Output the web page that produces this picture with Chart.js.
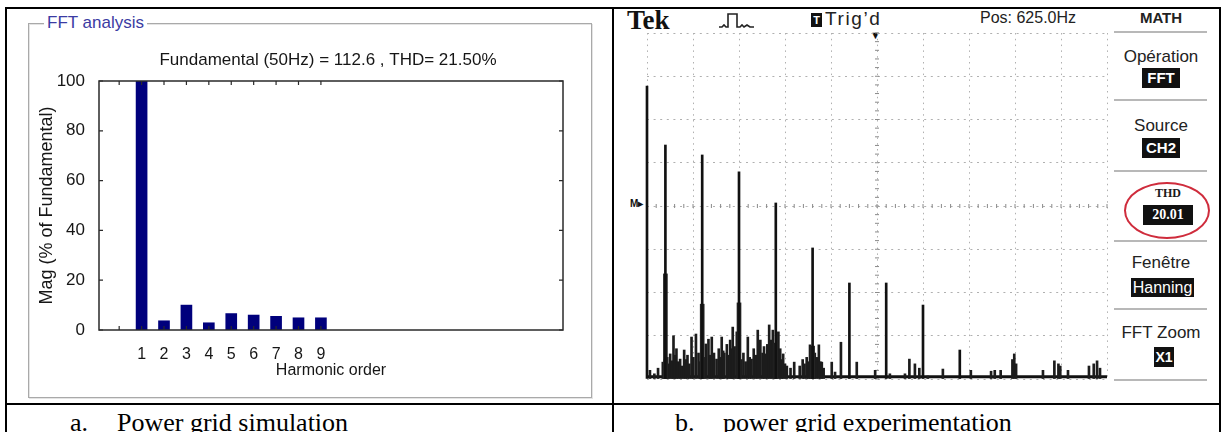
<!DOCTYPE html>
<html>
<head>
<meta charset="utf-8">
<script src="https://cdn.jsdelivr.net/npm/chart.js@4.4.0/dist/chart.umd.min.js"></script>
<style>
  html, body { margin: 0; padding: 0; background: #fff; }
  #page { position: relative; width: 1226px; height: 432px; overflow: hidden; font-family: "Liberation Sans", Arial, sans-serif; color: #1a1a1a; }
  .rule { position: absolute; background: #000; }
  .abs { position: absolute; white-space: nowrap; }
  canvas { position: absolute; }
  .frame { position: absolute; left: 28px; top: 23px; width: 562px; height: 373px; border: 1px solid #a9a9a9; box-shadow: 1px 1px 0 #e4e4e4, inset 1px 1px 0 #e4e4e4; }
  .frameLabel { left: 44px; top: 12px; padding: 0 3px; background: #fff; color: #3b3ba3; font-size: 17px; line-height: 22px; }
  .caption { font-family: "Liberation Serif", "Times New Roman", serif; font-size: 26px; line-height: 28px; top: 409px; color: #000; }
  .sep { position: absolute; left: 1114px; width: 93px; height: 2px; background: #b8b8b8; }
  .menu { position: absolute; left: 1114px; width: 94px; text-align: center; font-size: 17px; line-height: 20px; color: #222; }
  .inv { position: absolute; background: #111; color: #fff; text-align: center; font-weight: bold; }
</style>
</head>
<body>
<div id="page">
  <!-- table lines -->
  <div class="rule" style="left:5px; top:7px; width:1216px; height:2px;"></div>
  <div class="rule" style="left:5px; top:403px; width:1216px; height:2px;"></div>
  <div class="rule" style="left:5px; top:7px; width:2px; height:425px;"></div>
  <div class="rule" style="left:612px; top:7px; width:2px; height:425px;"></div>
  <div class="rule" style="left:1219px; top:7px; width:2px; height:425px;"></div>

  <!-- left panel: MATLAB FFT analysis -->
  <div class="frame"></div>
  <div class="abs frameLabel">FFT analysis</div>
  <canvas id="simChart" width="612" height="404" style="left:0; top:0;"></canvas>

  <!-- right panel: oscilloscope -->
  <div class="abs" style="left:627px; top:4px; font-family:'Liberation Serif',serif; font-weight:bold; font-size:27px; line-height:32px; color:#111;">Tek</div>
  <svg class="abs" style="left:719px; top:12px;" width="36" height="18">
    <polyline points="0,15 3,15 5,13 7,15 9,15 9,2 18,2 18,15 21,15 23,13 25,15 28,13 31,15 35,15" fill="none" stroke="#222" stroke-width="1.6"/>
  </svg>
  <div class="inv" style="left:811px; top:13px; width:11px; height:14px; font-size:11px; line-height:14px;">T</div>
  <div class="abs" style="left:825px; top:8px; font-size:19px; line-height:22px; letter-spacing:1.6px; color:#222;">Trig’d</div>
  <div class="abs" style="left:980px; top:8px; font-size:16px; line-height:20px; color:#222;">Pos: 625.0Hz</div>
  <div class="abs" style="left:870px; top:29px; font-size:11px; line-height:12px; color:#111;">▼</div>
  <div class="abs" style="left:630px; top:198px; font-size:10px; line-height:12px; font-weight:bold; color:#111;">M▸</div>

  <canvas id="scopeChart" width="500" height="392" style="left:614px; top:10px;"></canvas>

  <div class="menu" style="top:8px; font-size:15px; font-weight:bold; line-height:20px;">MATH</div>
  <div class="sep" style="top:31px;"></div>
  <div class="menu" style="top:47px;">Opération</div>
  <div class="inv" style="left:1142px; top:68px; width:38px; height:20px; font-size:15px; line-height:20px;">FFT</div>
  <div class="sep" style="top:99px;"></div>
  <div class="menu" style="top:116px;">Source</div>
  <div class="inv" style="left:1142px; top:138px; width:38px; height:20px; font-size:15px; line-height:20px;">CH2</div>
  <div class="sep" style="top:170px;"></div>
  <div class="abs" style="left:1124px; top:182px; width:82px; height:53px; border:2.5px solid #cf2c3c; border-radius:50%;"></div>
  <div class="abs" style="left:1143px; top:186px; width:50px; text-align:center; font-family:'Liberation Serif',serif; font-weight:bold; font-size:12px; line-height:14px;">THD</div>
  <div class="inv" style="left:1143px; top:205px; width:50px; height:20px; font-family:'Liberation Serif',serif; font-size:14px; line-height:20px;">20.01</div>
  <div class="sep" style="top:240px;"></div>
  <div class="menu" style="top:253px;">Fenêtre</div>
  <div class="inv" style="left:1131px; top:278px; width:63px; height:19px; font-size:16px; font-weight:normal; line-height:19px;">Hanning</div>
  <div class="sep" style="top:308px;"></div>
  <div class="menu" style="top:323px;">FFT Zoom</div>
  <div class="inv" style="left:1154px; top:347px; width:20px; height:20px; font-size:14px; line-height:20px;">X1</div>
  <div class="sep" style="top:379px;"></div>

  <!-- captions -->
  <div class="abs caption" style="left:70px;">a.</div>
  <div class="abs caption" style="left:117px;">Power grid simulation</div>
  <div class="abs caption" style="left:675px;">b.</div>
  <div class="abs caption" style="left:723px;">power grid experimentation</div>
</div>

<script>
// ---- left: simulated harmonic spectrum (% of fundamental) ----
const harmonicOrder = [1, 2, 3, 4, 5, 6, 7, 8, 9];
const magPercent = [100, 3.7, 10, 2.9, 6.6, 6.0, 5.5, 4.9, 4.9];
const yTicksLeft = [0, 20, 40, 60, 80, 100];
const xTickMarks = [0, 1, 2, 3, 4, 5, 6, 7, 8, 9];
const plotTitle = 'Fundamental (50Hz) = 112.6 , THD= 21.50%';

// ---- right: oscilloscope FFT (Hz, divisions) ----
const gridFreq = [0, 125, 250, 375, 500, 625, 750, 875, 1000, 1125, 1250];
const gridDiv = [0, 1, 2, 3, 4, 5, 6, 7, 8];
const peakFreq = [0, 50, 150, 250, 350, 450, 550, 650, 750, 850];
const peakMag = [6.77, 5.41, 5.18, 4.79, 4.07, 3.03, 2.22, 2.22, 1.71, 0.67];
const shoulderFreq = [50, 150, 250, 350, 450];
const shoulderMag = [2.43, 1.73, 1.76, 0.83, 0.76];
const noiseFreq = [8, 20, 30, 43, 48, 55, 58, 63, 68, 72, 76, 80, 85, 90, 95, 101, 105, 110, 115, 121,
    126, 133, 140, 145, 155, 160, 167, 172, 176, 182, 189, 195, 199, 203, 207, 210, 217, 221, 226, 230,
    233, 238, 244, 256, 262, 268, 274, 279, 284, 290, 296, 301, 308, 314, 318, 323, 327, 332, 337, 342,
    347, 357, 362, 366, 370, 375, 380, 390, 400, 415, 423, 428, 434, 439, 443, 448, 452, 456, 461, 467,
    471, 475, 480, 502, 511, 527, 570, 620, 660, 701, 713, 728, 740, 763, 804, 880, 935, 945, 961, 993,
    998, 1003, 1076, 1107, 1118, 1123, 1144, 1201, 1214, 1223, 1231];
const noiseMag = [0.2, 0.12, 0.25, 0.39, 0.45, 0.5, 0.35, 0.58, 0.42, 1.0, 0.55, 0.7, 0.4, 0.46, 0.3, 0.67, 0.45, 0.55, 0.35, 0.97,
    0.5, 1.04, 0.6, 0.4, 0.5, 0.81, 0.92, 0.55, 0.97, 0.6, 0.46, 0.7, 0.5, 0.97, 0.65, 0.6, 0.8, 0.55, 0.9, 0.7,
    1.2, 0.75, 1.09, 0.45, 0.6, 0.4, 0.97, 0.5, 0.46, 0.7, 0.55, 1.13, 0.9, 0.6, 0.75, 0.58, 0.8, 1.25, 0.9, 1.13,
    0.7, 1.09, 0.7, 0.45, 0.58, 0.35, 0.3, 0.25, 0.39, 0.3, 0.45, 0.35, 0.5, 0.4, 0.79, 0.5, 0.45, 0.6, 0.5, 0.79,
    0.4, 0.39, 0.25, 0.39, 0.16, 0.85, 0.39, 0.2, 0.12, 0.12, 0.46, 0.35, 0.25, 0.07, 0.23, 0.2, 0.18, 0.2, 0.2, 0.45,
    0.58, 0.35, 0.2, 0.42, 0.35, 0.3, 0.2, 0.3, 0.35, 0.42, 0.25];
const floorFreq = [0, 1250];
const floorMag = [0.05, 0.05];

const SANS = '"Liberation Sans", Arial, sans-serif';
const TXT = '#161616';

function pairs(xs, ys) {
    return xs.map((v, i) => ({x: v, y: ys[i]}));
}

/*== box, inward ticks and title like a MATLAB axes ==*/
const matlabBox = {
    id: 'matlabBox',
    afterDraw(chart) {
        const {ctx, chartArea: a, scales: {x, y}} = chart;
        ctx.save();
        ctx.strokeStyle = '#2a2a2a';
        ctx.lineWidth = 1.5;
        ctx.strokeRect(a.left, a.top, a.right - a.left, a.bottom - a.top);
        ctx.lineWidth = 1.2;
        ctx.beginPath();
        xTickMarks.forEach(v => {
            const px = x.getPixelForValue(v);
            ctx.moveTo(px, a.top); ctx.lineTo(px, a.top + 4);
            ctx.moveTo(px, a.bottom); ctx.lineTo(px, a.bottom - 4);
        });
        yTicksLeft.forEach(v => {
            const py = y.getPixelForValue(v);
            ctx.moveTo(a.left, py); ctx.lineTo(a.left + 4, py);
            ctx.moveTo(a.right, py); ctx.lineTo(a.right - 4, py);
        });
        ctx.stroke();
        ctx.fillStyle = TXT;
        ctx.font = '17px ' + SANS;
        ctx.textAlign = 'center';
        ctx.textBaseline = 'middle';
        ctx.fillText(plotTitle, (a.left + a.right) / 2 - 3, a.top - 21);
        ctx.restore();
    }
};

/*== centre cross of the scope graticule, with minor marks ==*/
const scopeCross = {
    id: 'scopeCross',
    beforeDatasetsDraw(chart) {
        const {ctx, chartArea: a, scales: {x, y}} = chart;
        const cx = x.getPixelForValue(625);
        const cy = y.getPixelForValue(4);
        const stepY = (a.bottom - a.top) / 40;
        const stepX = (a.right - a.left) / 50;
        ctx.save();
        ctx.strokeStyle = '#8a8a8a';
        ctx.lineWidth = 1;
        ctx.beginPath();
        for (let py = a.top; py <= a.bottom + 0.5; py += stepY) {
            ctx.moveTo(cx - 2, py); ctx.lineTo(cx + 2, py);
        }
        for (let px = a.left; px <= a.right + 0.5; px += stepX) {
            ctx.moveTo(px, cy - 2); ctx.lineTo(px, cy + 2);
        }
        ctx.stroke();
        ctx.restore();
    }
};

Chart.defaults.font.family = SANS;

new Chart(document.getElementById('simChart'), {
    type: 'bar',
    data: {
        datasets: [{
            data: pairs(harmonicOrder, magPercent),
            backgroundColor: '#00007c',
            borderWidth: 0,
            barThickness: 11,
            grouped: false
        }]
    },
    options: {
        responsive: false,
        animation: false,
        layout: {padding: {left: 30, right: 49, top: 81, bottom: 14}},
        plugins: {legend: {display: false}, tooltip: {enabled: false}},
        scales: {
            x: {
                type: 'linear',
                min: -0.9,
                max: 19.8,
                offset: false,
                afterFit: s => { s.height = 60; },
                afterBuildTicks: s => { s.ticks = harmonicOrder.map(v => ({value: v})); },
                grid: {display: false, offset: false},
                border: {display: false},
                ticks: {font: {size: 16}, color: TXT, padding: 7, autoSkip: false, maxRotation: 0},
                title: {display: true, text: 'Harmonic order', font: {size: 16}, color: TXT, padding: {top: 0, bottom: 10}}
            },
            y: {
                min: 0,
                max: 100,
                afterFit: s => { s.width = 69; },
                afterBuildTicks: s => { s.ticks = yTicksLeft.map(v => ({value: v})); },
                grid: {display: false},
                border: {display: false},
                ticks: {font: {size: 17}, color: TXT, padding: 6},
                title: {display: true, text: 'Mag (% of Fundamental)', font: {size: 18}, color: TXT, padding: {top: 6, bottom: 0}}
            }
        }
    },
    plugins: [matlabBox]
});

new Chart(document.getElementById('scopeChart'), {
    type: 'bar',
    data: {
        datasets: [
            {data: pairs(peakFreq, peakMag), backgroundColor: '#111', barThickness: 2, grouped: false, clip: false},
            {data: pairs(shoulderFreq, shoulderMag), backgroundColor: '#262626', barThickness: 4, grouped: false},
            {data: pairs(noiseFreq, noiseMag), backgroundColor: '#1c1c1c', barThickness: 2, grouped: false, clip: false},
            {type: 'line', data: pairs(floorFreq, floorMag), borderColor: '#111', borderWidth: 3, pointRadius: 0, clip: false}
        ]
    },
    options: {
        responsive: false,
        animation: false,
        layout: {padding: {left: 33, right: 7, top: 23, bottom: 23}},
        plugins: {legend: {display: false}, tooltip: {enabled: false}},
        scales: {
            x: {
                type: 'linear',
                min: 0,
                max: 1250,
                offset: false,
                afterFit: s => { s.height = 0; },
                afterBuildTicks: s => { s.ticks = gridFreq.map(v => ({value: v})); },
                ticks: {display: false},
                grid: {color: '#b0b0b0', drawTicks: false, offset: false},
                border: {display: false, dash: [1.5, 4.3]}
            },
            y: {
                min: 0,
                max: 8,
                afterFit: s => { s.width = 0; },
                afterBuildTicks: s => { s.ticks = gridDiv.map(v => ({value: v})); },
                ticks: {display: false},
                grid: {color: '#b0b0b0', drawTicks: false},
                border: {display: false, dash: [2, 4.6]}
            }
        }
    },
    plugins: [scopeCross]
});
</script>
</body>
</html>
